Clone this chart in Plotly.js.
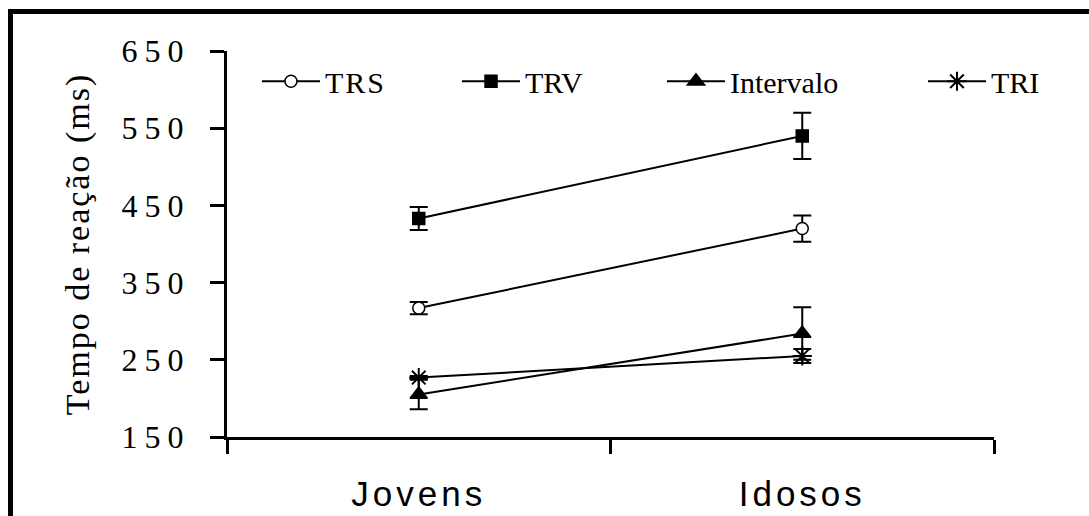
<!DOCTYPE html>
<html>
<head>
<meta charset="utf-8">
<script src="https://cdn.plot.ly/plotly-3.0.1.min.js"></script>
<style>
  html, body { margin: 0; padding: 0; background: #fff; overflow: hidden; }
  #wrap { position: relative; width: 1089px; height: 516px; }
  #chart { position: absolute; left: 0; top: 0; width: 1089px; height: 516px; }
  #frame { position: absolute; left: 8px; top: 9px; width: 1200px; height: 600px;
           border-left: 5px solid #000; border-top: 5px solid #000; pointer-events: none; }
  .ytick text { letter-spacing: 7px; }
  .xtick text { letter-spacing: 4px; }
  .legendtext { letter-spacing: 2px; }
  .ytitle { letter-spacing: 2px; }
</style>
</head>
<body>
<div id="wrap">
  <div id="chart"></div>
  <div id="frame"></div>
</div>
<script>
// ---- data ----
const categories = ['Jovens', 'Idosos'];
const trs = [317, 420];
const trsErr = [8, 17];
const trv = [433, 540];
const trvErr = [15, 30];
const intervalo = [205, 284];
const intervaloErr = [19, 34];
const tri = [227, 255];
const triErr = [2, 9];
const seriesNames = ['TRS', 'TRV', 'Intervalo', 'TRI'];
const yTitle = 'Tempo de reação (ms)';

const serif = 'Liberation Serif';
const narrow = 'Liberation Sans Narrow, Liberation Sans, sans-serif';

function mk(name, y, err, symbol, size, fill, legendId) {
  return {
    type: 'scatter', mode: 'lines+markers', name: name,
    x: categories, y: y,
    line: { color: '#000', width: 2 },
    marker: { symbol: symbol, size: size, color: fill, line: { color: '#000', width: 1.5 } },
    error_y: { type: 'data', array: err, visible: true, color: '#000', thickness: 2, width: 9 },
    legend: legendId, cliponaxis: false
  };
}

const traces = [
  mk(seriesNames[0], trs, trsErr, 'circle', 12, '#fff', 'legend'),
  mk(seriesNames[1], trv, trvErr, 'square', 12, '#000', 'legend2'),
  mk(seriesNames[2], intervalo, intervaloErr, 'triangle-up', 15, '#000', 'legend3'),
  mk(seriesNames[3], tri, triErr, 'asterisk-open', 16, '#000', 'legend4')
];
traces[3].marker.line = { color: '#000', width: 2 };

function leg(x) {
  return {
    orientation: 'h', x: x, xanchor: 'left', y: 0.9216, yanchor: 'middle',
    font: { family: serif, size: 30, color: '#000' },
    bgcolor: 'rgba(0,0,0,0)', borderwidth: 0, itemwidth: 58
  };
}

const layout = {
  width: 1089, height: 516,
  margin: { l: 227, r: 95, t: 51, b: 79 },
  paper_bgcolor: '#fff', plot_bgcolor: '#fff',
  font: { family: serif, color: '#000' },
  showlegend: true,
  legend: leg(0.0391),
  legend2: leg(0.2999),
  legend3: leg(0.5671),
  legend4: leg(0.9074),
  xaxis: {
    type: 'category', range: [-0.5, 1.5], tickson: 'boundaries',
    anchor: 'y', side: 'bottom',
    ticks: 'outside', ticklen: 14, tickwidth: 3, tickcolor: '#000',
    showline: true, linewidth: 3, linecolor: '#000',
    showgrid: false, zeroline: false,
    tickfont: { family: narrow, size: 35, color: '#000' },
    ticklabelstandoff: 24
  },
  yaxis: {
    range: [150, 650], tick0: 150, dtick: 100,
    anchor: 'x', side: 'left',
    ticks: 'outside', ticklen: 14, tickwidth: 3, tickcolor: '#000',
    showline: true, linewidth: 3, linecolor: '#000',
    showgrid: false, zeroline: false,
    tickfont: { family: serif, size: 32, color: '#000' },
    ticklabelstandoff: 13,
    title: { text: yTitle, font: { family: serif, size: 34, color: '#000' }, standoff: 22 }
  }
};

Plotly.newPlot('chart', traces, layout, { displayModeBar: false, staticPlot: true });
</script>
</body>
</html>
